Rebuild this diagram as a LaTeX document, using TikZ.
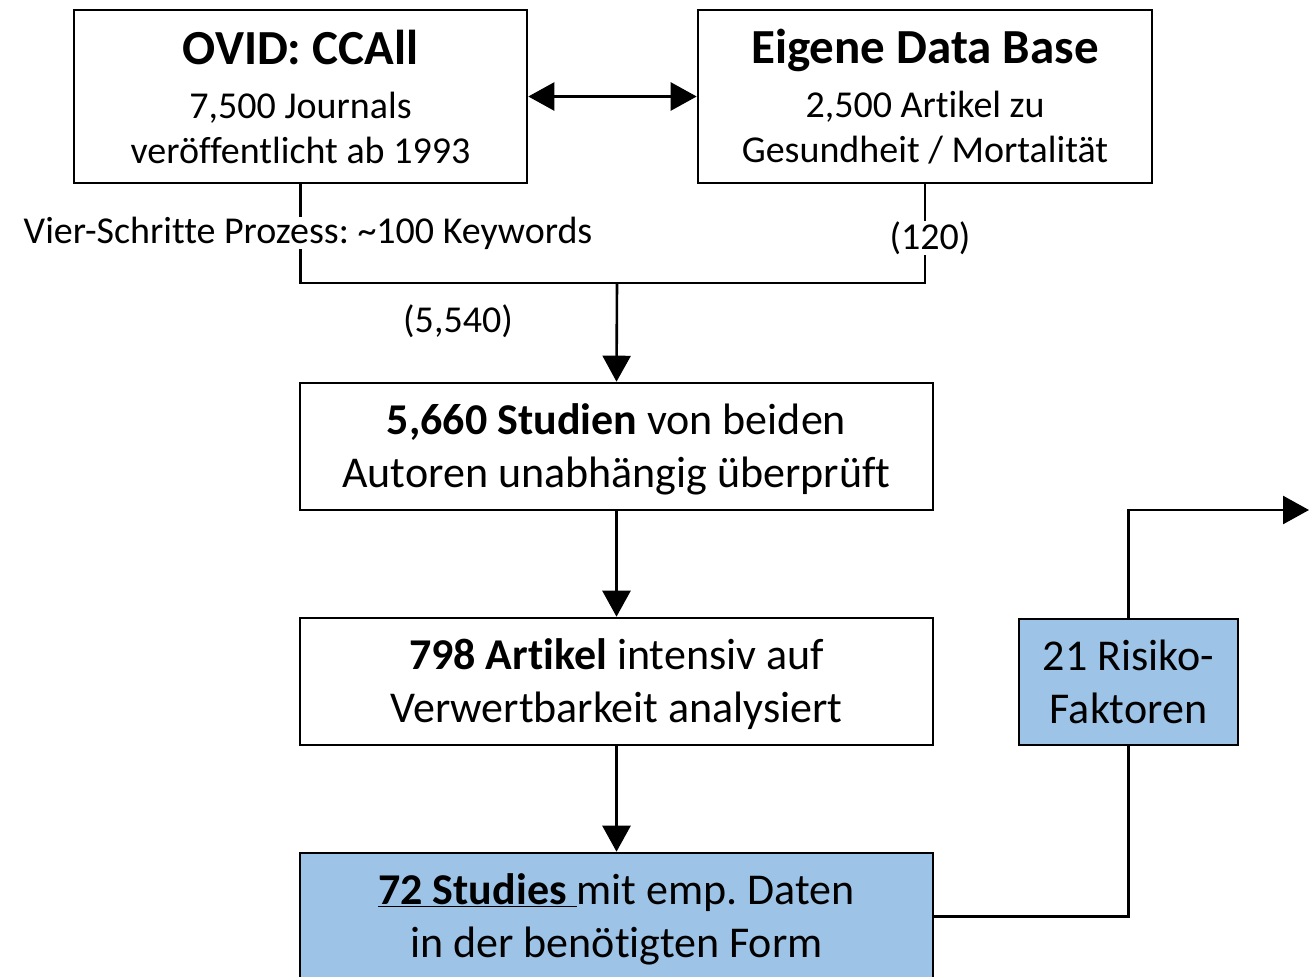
\documentclass[tikz,border=0pt]{standalone}
\usepackage{fontspec}
\setmainfont{Carlito}[Ligatures=NoCommon]
\usetikzlibrary{arrows.meta}
\definecolor{lblue}{RGB}{157,195,230}
\frenchspacing
\newcommand{\htfix}{\rule{0pt}{36pt}}
\begin{document}
\begin{tikzpicture}[x=1pt,y=-1pt,line width=2.6pt,
  box/.style={draw=black,rectangle,align=center,inner sep=0pt},
  small/.style={font=\fontsize{38}{45}\selectfont},
  big/.style={font=\fontsize{44}{53}\selectfont},
  lbl/.style={small,fill=white,inner sep=0pt},
  tip/.style={-{Triangle[length=26pt,width=28pt]}},
  dtip/.style={{Triangle[length=26pt,width=28pt]}-{Triangle[length=26pt,width=28pt]}}]
\useasboundingbox (0,0) rectangle (1309,977);
\clip (0,0) rectangle (1309,977);
\node[box,small,minimum width=453pt,minimum height=173pt] (ovid) at (300.5,96.5)
  {{\fontsize{49}{54}\selectfont\bfseries OVID: CCAll}\\[9pt]7,500 Journals\\veröffentlicht ab 1993};
\node[box,small,minimum width=454pt,minimum height=173pt] (eig) at (925,96.5)
  {{\fontsize{49}{54}\selectfont\bfseries Eigene Data Base}\\[9pt]2,500 Artikel zu\\Gesundheit / Mortalität};
\draw[dtip] (ovid.east) -- (eig.west);
\coordinate (jl) at (300.5,283);
\coordinate (jr) at (925,283);
\coordinate (jm) at (617,283);
\draw (ovid.south) -- (jl) -- (jr) -- (eig.south);
\node[lbl] (kw) at (308,233) {Vier-Schritte Prozess: \textasciitilde 100 Keywords};
\node[lbl] (n120) at (930,238) {(120)};
\node[small] (n5540) at (458,321) {(5,540)};
\node[box,big,minimum width=633pt,minimum height=127pt] (s1) at (616.5,446.5)
  {\htfix\textbf{5,660 Studien} von beiden\\Autoren unabhängig überprüft};
\node[box,big,minimum width=633pt,minimum height=127pt] (s2) at (616.5,681.5)
  {\htfix\textbf{798 Artikel} intensiv auf\\Verwertbarkeit analysiert};
\node[box,big,fill=lblue,minimum width=633pt,minimum height=127pt] (s3) at (616.5,916.5)
  {\htfix\underline{\textbf{72 Studies}\ }mit emp. Daten\\in der benötigten Form};
\node[box,big,fill=lblue,minimum width=219pt,minimum height=126pt] (rf) at (1128.5,682)
  {21 Risiko-\\Faktoren};
\coordinate (out) at (1309,510);
\draw[tip] (jm) -- (s1.north);
\draw[tip] (s1) -- (s2);
\draw[tip] (s2) -- (s3);
\draw (s3.east) -| (rf.south);
\draw[tip] (rf.north) |- (out);
\end{tikzpicture}
\end{document}
